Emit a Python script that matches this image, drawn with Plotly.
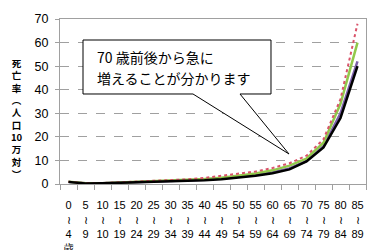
import plotly.graph_objects as go

# ---- data ----
age_labels = ["0<br>≀<br>4<br>歳", "5<br>≀<br>9", "10<br>≀<br>10", "15<br>≀<br>19", "20<br>≀<br>24",
              "25<br>≀<br>29", "30<br>≀<br>34", "35<br>≀<br>39", "40<br>≀<br>44", "45<br>≀<br>49",
              "50<br>≀<br>54", "55<br>≀<br>59", "60<br>≀<br>64", "65<br>≀<br>69", "70<br>≀<br>74",
              "75<br>≀<br>79", "80<br>≀<br>84", "85<br>≀<br>89"]
series_red = [1.0, 0.4, 0.4, 0.7, 1.0, 1.2, 1.5, 2.0, 2.6, 3.4, 4.3, 5.3, 6.8, 8.8, 12.0, 19.0, 36.0, 68.0]
series_green = [1.0, 0.3, 0.3, 0.6, 0.9, 1.0, 1.3, 1.6, 2.1, 2.7, 3.5, 4.5, 5.8, 7.8, 10.8, 17.5, 34.0, 60.0]
series_purple = [0.9, 0.3, 0.3, 0.5, 0.8, 0.9, 1.1, 1.4, 1.8, 2.3, 3.0, 3.8, 5.0, 6.6, 9.8, 16.0, 30.0, 52.0]
series_black = [0.9, 0.2, 0.3, 0.5, 0.8, 0.8, 1.0, 1.3, 1.6, 2.0, 2.7, 3.5, 4.6, 6.2, 9.6, 15.5, 28.0, 50.0]
y_ticks = [0, 10, 20, 30, 40, 50, 60, 70]
y_title_chars = ["死", "亡", "率", "︵", "人", "口", "10", "万", "対", "︶"]
callout_lines = ["70 歳前後から急に", "増えることが分かります"]

# page has an 8px body margin; compensate so the plot sits where the reference has it
OFF = 8
W, H = 376, 250
PL, PR, PT, PB = 60, 366, 19, 184          # plot area in page pixels
L, T = PL - OFF, PT - OFF
R = W - (PR - OFF)
B = H - (PB - OFF)
PW, PH = PR - PL, PB - PT

def px(x):
    return (x - PL) / PW

def py(y):
    return (PB - y) / PH

fig = go.Figure()
fig.add_trace(go.Scatter(x=age_labels, y=series_purple, mode="lines",
                         line=dict(color="#7B5FA8", width=2.5)))
fig.add_trace(go.Scatter(x=age_labels, y=series_green, mode="lines",
                         line=dict(color="#92C84A", width=2.5)))
fig.add_trace(go.Scatter(x=age_labels, y=series_red, mode="lines",
                         line=dict(color="#D9536A", width=2, dash="dot")))
fig.add_trace(go.Scatter(x=age_labels, y=series_black, mode="lines",
                         line=dict(color="#000000", width=2.5)))

# callout box with pointer
pts = [(83, 40), (271, 40), (271, 94), (240, 94), (289, 154), (193, 94), (83, 94)]
path = "M " + " L ".join(f"{px(a):.4f},{py(b):.4f}" for a, b in pts) + " Z"
fig.add_shape(type="path", path=path, xref="paper", yref="paper",
              line=dict(color="#000000", width=1), fillcolor="white", layer="above")

ann = []
for i, txt in enumerate(callout_lines):
    ann.append(dict(text=txt, x=px(95), y=py(57 + 21 * i), xref="paper", yref="paper",
                    xanchor="left", yanchor="middle", showarrow=False,
                    font=dict(family="Noto Sans CJK JP", size=14, color="#000000")))
ann.append(dict(text="<b>" + "<br>".join(y_title_chars) + "</b>", x=px(17), y=py(118),
                xref="paper", yref="paper", xanchor="center", yanchor="middle", showarrow=False,
                font=dict(family="Noto Sans CJK JP", size=9.5, color="#000000")))
fig.update_layout(annotations=ann)

fig.update_layout(
    width=W, height=H, margin=dict(l=L, r=R, t=T, b=B, autoexpand=False),
    paper_bgcolor="white", plot_bgcolor="white", showlegend=False,
    font=dict(family="Liberation Sans", color="#000000"),
    xaxis=dict(type="category", range=[-0.5, 17.5], tickson="boundaries", ticks="outside", ticklen=5,
               tickcolor="#A0A0A0", showline=True, linecolor="#A0A0A0", mirror=True,
               showgrid=False, tickangle=0, tickfont=dict(size=11, family="Liberation Sans"),
               ticklabelstandoff=11, fixedrange=True, automargin=False),
    yaxis=dict(range=[0, 70], tickvals=y_ticks, ticks="outside", ticklen=4, tickcolor="#A0A0A0",
               showline=True, linecolor="#A0A0A0", mirror=True, automargin=False,
               showgrid=True, gridcolor="#A0A0A0", griddash="dash", gridwidth=1,
               zeroline=False, tickfont=dict(size=12.5, family="Liberation Sans"), ticklabelstandoff=4),
)

fig.write_html("out.html")
